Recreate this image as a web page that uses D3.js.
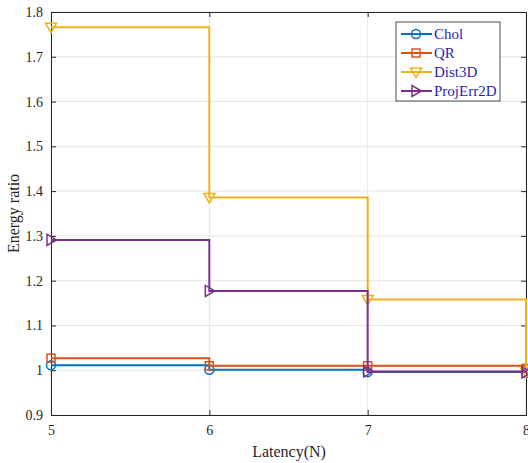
<!DOCTYPE html>
<html>
<head>
	<title>Energy ratio stairs</title>
	<script src="https://d3js.org/d3.v7.min.js" charset="utf-8"></script>
	<style>
		body { margin: 0; background: #fff; }
		text { font-family: "Liberation Serif", "DejaVu Serif", serif; }
	</style>
</head>
<body>
	<svg width="528" height="463"></svg>
	<script>
		// data
		const latency = [5, 6, 7, 8];
		const chol = [1.011, 1.001, 0.996, 0.994];
		const qr = [1.027, 1.010, 1.010, 1.004];
		const dist3d = [1.766, 1.386, 1.158, 0.996];
		const projErr2d = [1.291, 1.177, 0.997, 0.995];
		const seriesNames = ['Chol', 'QR', 'Dist3D', 'ProjErr2D'];
		const xTicks = [5, 6, 7, 8];
		const yTicks = [0.9, 1, 1.1, 1.2, 1.3, 1.4, 1.5, 1.6, 1.7, 1.8];

		const colors = ['#0072BD', '#D95319', '#EDB120', '#7E2F8E'];
		const markers = ['circle', 'square', 'down', 'right'];
		const allSeries = [chol, qr, dist3d, projErr2d];

		const margin = {left: 51, top: 12, right: 2, bottom: 48};
		const width = 528 - margin.left - margin.right;
		const height = 463 - margin.top - margin.bottom;

		var svg = d3.select('svg');
		const chart = svg.append('g')
			.attr('transform', `translate(${margin.left}, ${margin.top})`);

		const xScale = d3.scaleLinear().domain([5, 8]).range([0, width]);
		const yScale = d3.scaleLinear().domain([0.9, 1.8]).range([height, 0]);

		// grid
		chart.append('g').selectAll('line').data(xTicks).enter().append('line')
			.attr('x1', d => xScale(d)).attr('x2', d => xScale(d))
			.attr('y1', 0).attr('y2', height)
			.attr('stroke', '#e6e6e6').attr('stroke-width', 1);
		chart.append('g').selectAll('line').data(yTicks).enter().append('line')
			.attr('x1', 0).attr('x2', width)
			.attr('y1', d => yScale(d)).attr('y2', d => yScale(d))
			.attr('stroke', '#e6e6e6').attr('stroke-width', 1);

		// axes, ticks pointing inward like matlab
		const fmt = d => d3.format('')(+d.toFixed(1));
		const xAxis = chart.append('g')
			.attr('transform', `translate(0, ${height})`)
			.call(d3.axisBottom(xScale).tickValues(xTicks).tickSize(-5).tickPadding(10).tickFormat(d3.format('d')));
		const xTop = chart.append('g')
			.call(d3.axisTop(xScale).tickValues(xTicks).tickSize(-5).tickFormat(''));
		const yAxis = chart.append('g')
			.call(d3.axisLeft(yScale).tickValues(yTicks).tickSize(-5).tickPadding(8).tickFormat(fmt));
		const yRight = chart.append('g')
			.attr('transform', `translate(${width}, 0)`)
			.call(d3.axisRight(yScale).tickValues(yTicks).tickSize(-5).tickFormat(''));

		[xAxis, xTop, yAxis, yRight].forEach(a => {
			a.select('.domain').attr('stroke', '#262626').attr('stroke-width', 1);
			a.selectAll('.tick line').attr('stroke', '#262626');
			a.selectAll('text').attr('fill', '#262626')
				.style('font-family', '"Liberation Serif", serif').style('font-size', '14px');
		});

		// stairs
		const stairs = d3.line()
			.x(d => xScale(d[0])).y(d => yScale(d[1]))
			.curve(d3.curveStepAfter);

		function drawMarker(g, type, color, cx, cy) {
			if (type === 'circle') {
				g.append('circle').attr('cx', cx).attr('cy', cy).attr('r', 4.5)
					.attr('fill', 'none').attr('stroke', color).attr('stroke-width', 1.5);
			} else if (type === 'square') {
				g.append('rect').attr('x', cx - 4).attr('y', cy - 4).attr('width', 8).attr('height', 8)
					.attr('fill', 'none').attr('stroke', color).attr('stroke-width', 1.5);
			} else if (type === 'down') {
				g.append('path').attr('d', `M${cx - 5.5},${cy - 4}L${cx + 5.5},${cy - 4}L${cx},${cy + 5.5}Z`)
					.attr('fill', 'none').attr('stroke', color).attr('stroke-width', 1.5);
			} else {
				g.append('path').attr('d', `M${cx - 4},${cy - 5.5}L${cx - 4},${cy + 5.5}L${cx + 5.5},${cy}Z`)
					.attr('fill', 'none').attr('stroke', color).attr('stroke-width', 1.5);
			}
		}

		// the last step drops at x = 8, where the axis ends
		allSeries.forEach((vals, i) => {
			const pts = latency.map((x, j) => [x, vals[j]]);
			const g = chart.append('g');
			g.append('path').datum(pts)
				.attr('d', stairs)
				.attr('fill', 'none').attr('stroke', colors[i]).attr('stroke-width', 2);
			pts.forEach(p => drawMarker(g, markers[i], colors[i], xScale(p[0]), yScale(p[1])));
		});

		// labels
		svg.append('text')
			.attr('x', 289).attr('y', 457)
			.attr('text-anchor', 'middle').attr('fill', '#262626')
			.style('font-size', '16px').text('Latency(N)');
		svg.append('text')
			.attr('transform', `translate(19, ${margin.top + height / 2}) rotate(-90)`)
			.attr('text-anchor', 'middle').attr('fill', '#262626')
			.style('font-size', '16px').text('Energy ratio');

		// legend
		const legend = svg.append('g').attr('transform', 'translate(396, 22)');
		legend.append('rect').attr('width', 104).attr('height', 79)
			.attr('fill', '#fff').attr('stroke', '#262626').attr('stroke-width', 0.8);
		seriesNames.forEach((name, i) => {
			const y = 12 + i * 19;
			legend.append('line').attr('x1', 5).attr('x2', 36).attr('y1', y).attr('y2', y)
				.attr('stroke', colors[i]).attr('stroke-width', 2);
			drawMarker(legend, markers[i], colors[i], 20, y);
			legend.append('text').attr('x', 38).attr('y', y + 5)
				.attr('fill', '#1f1fb4').style('font-size', '15px').text(name);
		});
	</script>
</body>
</html>
